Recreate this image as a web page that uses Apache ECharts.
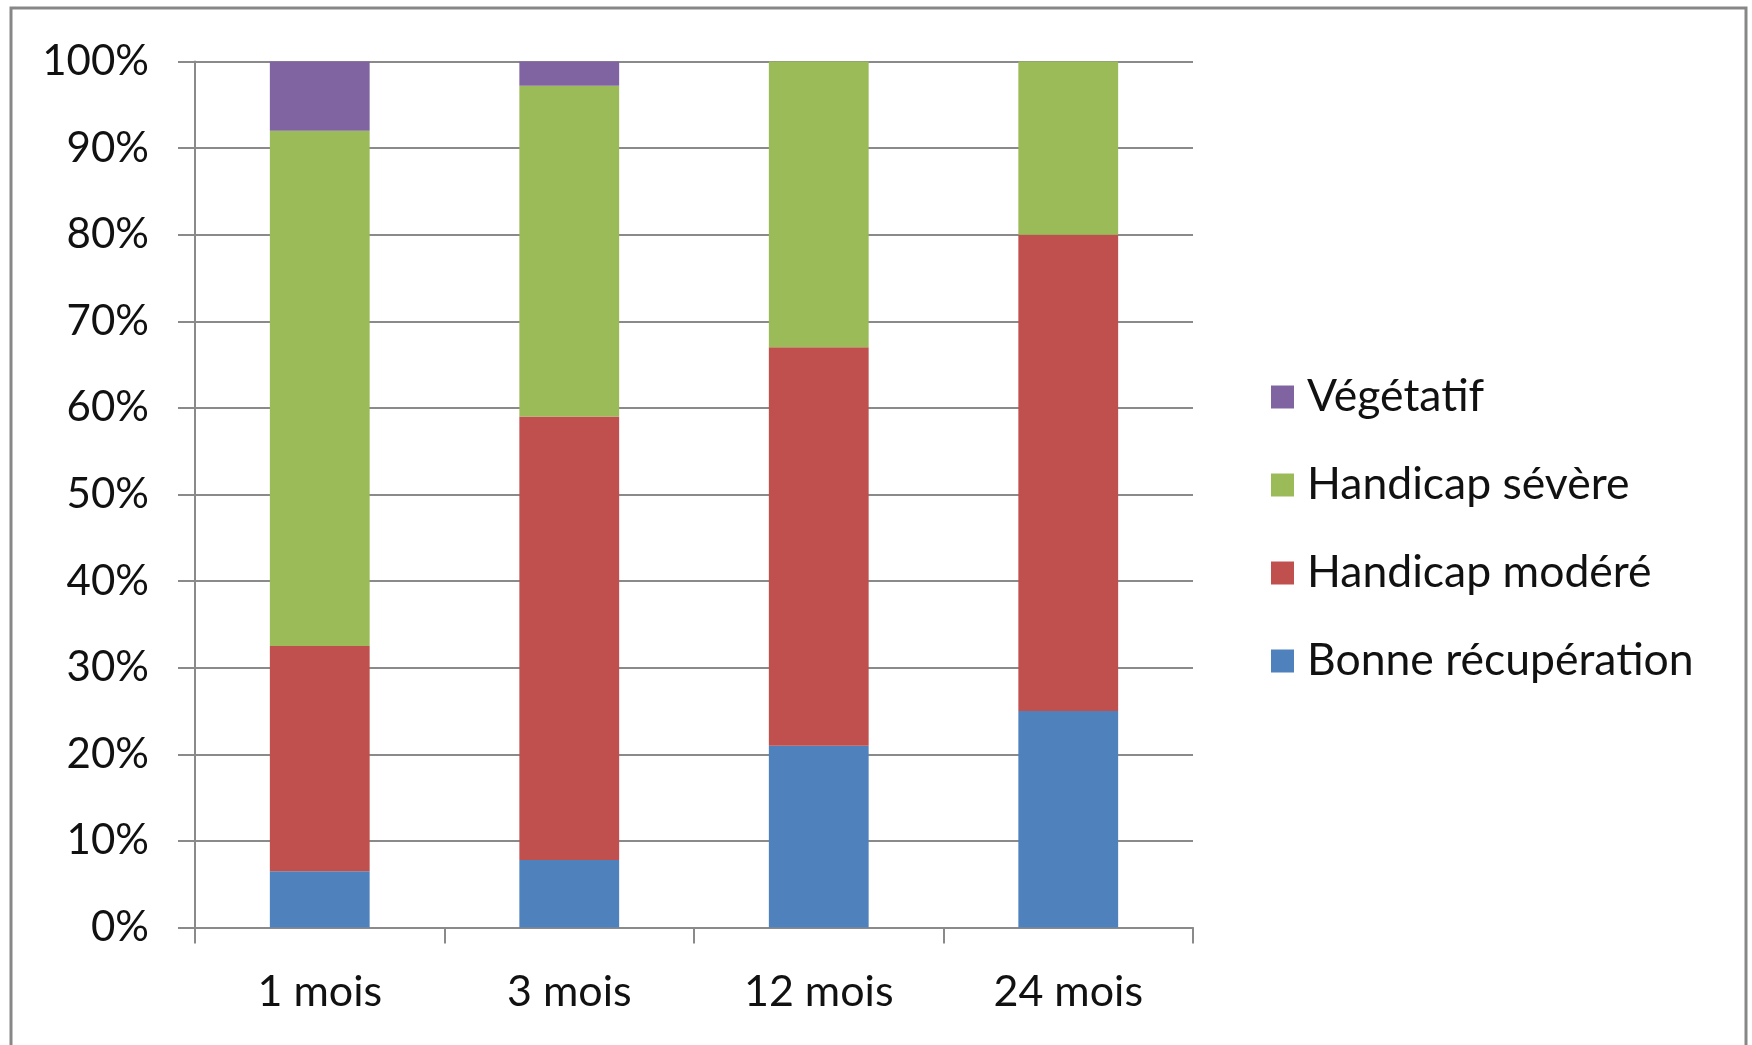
<!DOCTYPE html>
<html><head><meta charset="utf-8">
<script src="https://cdn.jsdelivr.net/npm/echarts@6/dist/echarts.min.js"></script>
<style>html,body{margin:0;padding:0;background:#fff}#c{width:1752px;height:1045px}</style>
</head><body><div id="c"></div>
<script>
const categories = ['1 mois', '3 mois', '12 mois', '24 mois'];
const bonne = [6.5, 7.8, 21, 25];
const modere = [26, 51.2, 46, 55];
const severe = [59.5, 38.2, 33, 20];
const vegetatif = [8, 2.8, 0, 0];
const yTicks = [0, 10, 20, 30, 40, 50, 60, 70, 80, 90, 100];

const FONT = 'Lato';
const chart = echarts.init(document.getElementById('c'), null, {renderer: 'canvas'});
const mk = (name, data, color) => ({
  name, type: 'bar', stack: 't', data, barWidth: '40%',
  itemStyle: {color}, emphasis: {disabled: true}
});
chart.setOption({
  animation: false,
  backgroundColor: '#fff',
  graphic: [{
    type: 'rect', shape: {x: 11, y: 8, width: 1735, height: 1100},
    style: {fill: 'none', stroke: '#878787', lineWidth: 3}, z: 100
  }],
  grid: {left: 195, right: 559, top: 61.5, bottom: 117.5, containLabel: false},
  xAxis: {
    type: 'category', data: categories,
    axisLine: {lineStyle: {color: '#8a8a8a', width: 2}},
    axisTick: {show: true, length: 16, lineStyle: {color: '#8a8a8a', width: 2}},
    axisLabel: {fontFamily: FONT, fontSize: 43, color: '#111', margin: 43}
  },
  yAxis: {
    type: 'value', min: 0, max: 100, interval: 10,
    axisLine: {show: true, lineStyle: {color: '#8a8a8a', width: 2}},
    axisTick: {show: true, length: 17, lineStyle: {color: '#8a8a8a', width: 2}},
    splitLine: {lineStyle: {color: '#8a8a8a', width: 2}},
    axisLabel: {
      fontFamily: FONT, fontSize: 42, color: '#111', margin: 46,
      formatter: v => yTicks.includes(v) ? v + '%' : ''
    }
  },
  legend: {
    orient: 'vertical', left: 1266, top: 367,
    data: ['Végétatif', 'Handicap sévère', 'Handicap modéré', 'Bonne récupération'],
    itemWidth: 23, itemHeight: 23, itemGap: 38, icon: 'rect',
    textStyle: {fontFamily: FONT, fontSize: 44.5, color: '#111', lineHeight: 50, padding: [0, 0, 0, 8]}
  },
  series: [
    mk('Bonne récupération', bonne, '#4F81BD'),
    mk('Handicap modéré', modere, '#C0504D'),
    mk('Handicap sévère', severe, '#9BBB59'),
    mk('Végétatif', vegetatif, '#8064A2')
  ]
});
</script></body></html>
